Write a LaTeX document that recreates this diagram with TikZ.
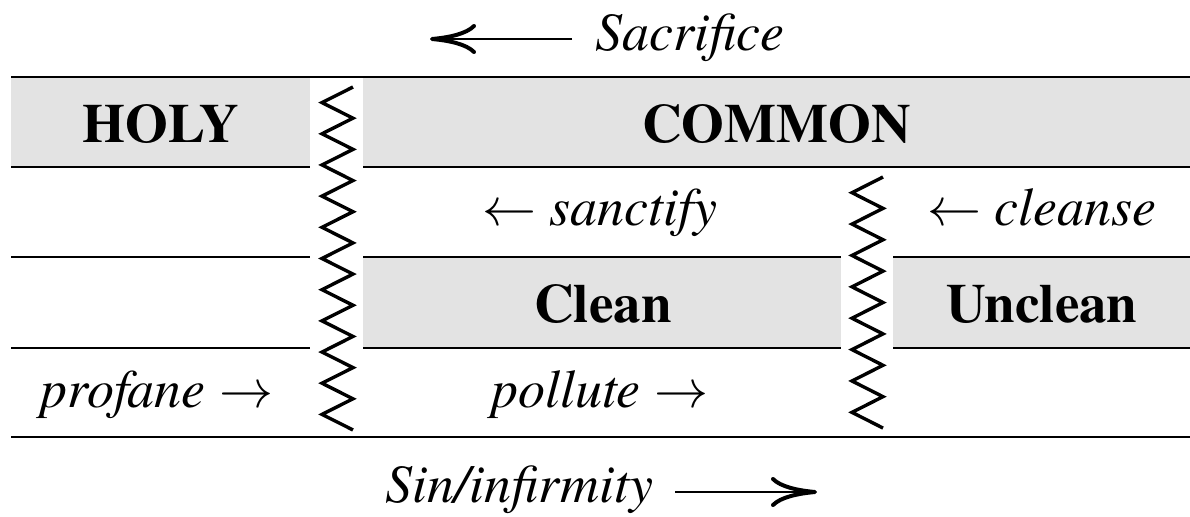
\RequirePackage{fix-cm}
\documentclass[tikz,border=0pt]{standalone}
\usepackage{fontspec}
\IfFontExistsTF{texgyretermes-regular.otf}{%
  \setmainfont{texgyretermes}[Extension=.otf, UprightFont=*-regular, BoldFont=*-bold, ItalicFont=*-italic, BoldItalicFont=*-bolditalic]%
}{%
  \setmainfont{Liberation Serif}%
}
\usetikzlibrary{arrows.meta}
\definecolor{bandgray}{RGB}{227,227,227}
\begin{document}
\begin{tikzpicture}[x=0.5pt,y=-0.5pt,
  rule/.style={line width=1pt},
  zz/.style={line width=1.7pt, line join=miter},
  bandbox/.style={fill=bandgray},
  lbl/.style={anchor=base, inner sep=0pt, font=\fontsize{27}{30}\selectfont\itshape},
  big/.style={anchor=base, inner sep=0pt, font=\fontsize{27.5}{30}\selectfont\bfseries},
  longarr/.style={line width=1pt, -{Computer Modern Rightarrow[length=23pt,width=15pt,line width=2pt]}}]
\useasboundingbox (0,0) rectangle (1190,516);
% gray bands
\fill[bandbox] (11,77) rectangle (310,167);
\fill[bandbox] (363,77) rectangle (1190,167);
\fill[bandbox] (363,257) rectangle (841,348);
\fill[bandbox] (893,257) rectangle (1190,348);
% rules
\draw[rule] (11,77) -- (1190,77);
\draw[rule] (11,437) -- (1190,437);
\draw[rule] (11,167) -- (310,167);
\draw[rule] (363,167) -- (1190,167);
\foreach \yy in {257,348}{
  \draw[rule] (11,\yy) -- (310,\yy);
  \draw[rule] (363,\yy) -- (841,\yy);
  \draw[rule] (893,\yy) -- (1190,\yy);
}
% zigzags
\draw[zz] (353,87) \foreach \i in {1,...,11}{ -- (322,{87+(2*\i-1)*15.59}) -- (353,{87+2*\i*15.59}) };
\draw[zz] (883,177) \foreach \i in {1,...,8}{ -- (852,{177+(2*\i-1)*15.69}) -- (883,{177+2*\i*15.69}) };
% texts
\node[lbl, anchor=base west] (sac) at (595,50) {Sacrifice};
\coordinate (sacA) at (572,39);
\coordinate (sacB) at (430,39);
\draw[longarr] (sacA) -- (sacB);
\node[lbl, anchor=base west] (sin) at (385,502) {Sin/infirmity};
\coordinate (sinA) at (675,492);
\coordinate (sinB) at (817,492);
\draw[longarr] (sinA) -- (sinB);
\node[big] (holy) at (161,142) {HOLY};
\node[big] (common) at (777,142) {COMMON};
\node[lbl] (sanct) at (600,225) {$\leftarrow$ sanctify};
\node[lbl] (clns) at (1042,225) {$\leftarrow$ cleanse};
\node[big] (clean) at (603,322) {Clean};
\node[big] (unclean) at (1042,322) {Unclean};
\node[lbl] (prof) at (157,407) {profane $\rightarrow$};
\node[lbl] (poll) at (600,407) {pollute $\rightarrow$};
\end{tikzpicture}
\end{document}
